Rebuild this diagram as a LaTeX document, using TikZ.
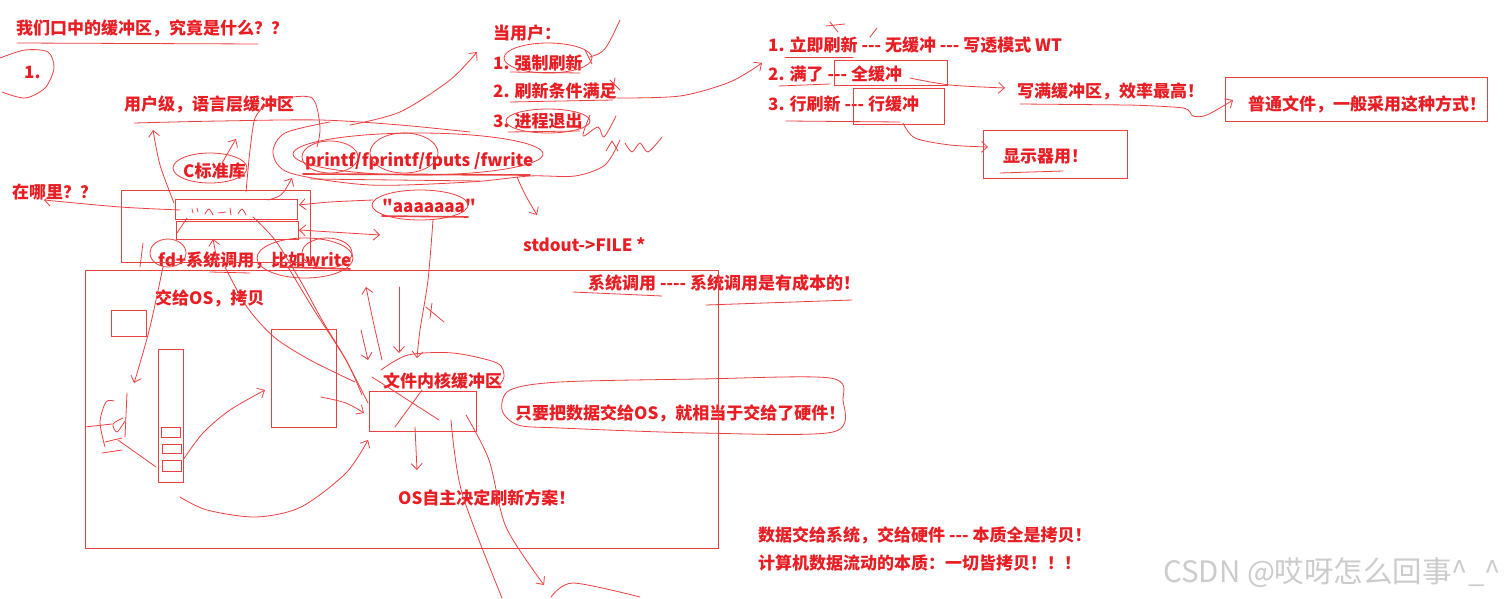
\documentclass[tikz,border=0pt]{standalone}
\usepackage{fontspec}
\setmainfont{Noto Sans CJK SC}[Ligatures=TeXOff]
\usetikzlibrary{arrows.meta}
\definecolor{inkred}{RGB}{232,30,36}
\definecolor{penred}{RGB}{236,64,64}
\tikzset{
  note/.style={font=\bfseries\fontsize{17}{20}\selectfont, text=inkred, inner sep=0pt, anchor=west},
  stamp/.style={font=\fontsize{29.5}{32}\selectfont, text=gray!40, inner sep=0pt, anchor=west},
  pen/.style={draw=penred, line width=0.8pt, line cap=round, line join=round},
  heavy/.style={pen, line width=1.6pt},
  frame/.style={draw=penred, line width=1pt},
}
\begin{document}
\begin{tikzpicture}[x=1pt, y=-1pt, >={Straight Barb[length=6pt,width=11pt]}]
\useasboundingbox (0,0) rectangle (1507,599);
\fill[white] (0,0) rectangle (1507,599);

% Textos
\node[note] (title) at (16,28) {我们口中的缓冲区，究竟是什么？？};
\node[note] (one) at (24,72) {1.};
\node[note] (userlv) at (124,104) {用户级，语言层缓冲区};
\node[note] (clib) at (183,171) {C标准库};
\node[note] (where) at (12,192) {在哪里？？};
\node[note] (printf) at (305,161) {printf/fprintf/fputs /fwrite};
\node[note] (aaa) at (382,206) {"aaaaaaa"};
\node[note] (stdout) at (523,245) {stdout->FILE *};
\node[note] (fdsys) at (158,260) {fd+系统调用，比如write};
\node[note] (toos) at (155,298) {交给OS，拷贝};
\node[note] (syscall) at (588,283) {系统调用 ---- 系统调用是有成本的！};
\node[note] (kbuf) at (383,381) {文件内核缓冲区};
\node[note] (hw) at (515,413) {只要把数据交给OS，就相当于交给了硬件！};
\node[note] (osflush) at (398,498) {OS自主决定刷新方案！};
\node[note] (when) at (493,33) {当用户：};
\node[note] (w1) at (493,63) {1. 强制刷新};
\node[note] (w2) at (493,91) {2. 刷新条件满足};
\node[note] (w3) at (493,121) {3. 进程退出};
\node[note] (m1) at (768,45) {1. 立即刷新 --- 无缓冲 --- 写透模式 WT};
\node[note] (m2) at (768,74) {2. 满了 --- 全缓冲};
\node[note] (m3) at (768,104) {3. 行刷新 --- 行缓冲};
\node[note] (full) at (1017,91) {写满缓冲区，效率最高！};
\node[note] (normal) at (1248,104) {普通文件，一般采用这种方式！};
\node[note] (disp) at (1003,156) {显示器用！};
\node[note] (copy1) at (758,535) {数据交给系统，交给硬件 --- 本质全是拷贝！};
\node[note] (copy2) at (758,563) {计算机数据流动的本质：一切皆拷贝！！！};
\node[stamp] (csdn) at (1163,573) {CSDN @哎呀怎么回事\textasciicircum\_\textasciicircum};

% Cajas
\draw[frame] (121,190) rectangle (310,262);
\draw[frame] (175,199) rectangle (297,219);
\draw[frame] (176,221) rectangle (298,239);
\draw[frame] (85,270) rectangle (718,548);
\draw[frame] (111,310) rectangle (146,336);
\draw[frame] (158,349) rectangle (183,482);
\draw[frame] (161,427) rectangle (180,437);
\draw[frame] (162,444) rectangle (181,453);
\draw[frame] (162,460) rectangle (181,471);
\draw[frame] (271,329) rectangle (336,427);
\draw[frame] (369,391) rectangle (476,431);
\draw[frame] (834,61) rectangle (947,86);
\draw[frame] (853,89) rectangle (944,125);
\draw[frame] (983,131) rectangle (1127,178);
\draw[frame] (1225,78) rectangle (1487,122);

% Subrayados
\draw[pen] (17,43) -- (258,44);
\draw[pen] plot[smooth] coordinates {(134,123) (220,121) (320,120) (400,125) (470,132)};
\draw[heavy] (303,174) -- (530,175);
\draw[pen] (310,179) -- (480,181);
\draw[heavy] (382,216) -- (468,217);
\draw[pen] (210,272) -- (250,273);
\draw[heavy] (280,267) -- (350,269);
\draw[pen] (510,72) -- (580,73);
\draw[pen] (510,102) -- (613,100);
\draw[pen] (508,132) -- (580,131);
\draw[pen] (785,57) -- (853,57);
\draw[pen] (779,86) -- (830,84);
\draw[pen] (786,121) -- (900,122);
\draw[pen] (1020,104) -- (1130,105);
\draw[pen] (1000,173) -- (1063,171);
\draw[pen] (573,292) -- (662,296);
\draw[pen] (706,305) -- (852,300);

% Lazos
\draw[pen] plot[smooth] coordinates {(0,58) (25,50) (48,52) (54,68) (45,88) (25,98) (2,92)};
\draw[pen] (210,168) ellipse (37 and 15);
\draw[pen] (330,157) ellipse (28 and 16);
\draw[pen] (404,153) ellipse (34 and 20);
\draw[pen] (418,154) ellipse (125 and 21);
\draw[pen] plot[smooth] coordinates {(265,106) (280,99) (312,98) (320,127) (317,147)};
\draw[pen] plot[smooth] coordinates {(330,122) (285,133) (273,153) (290,173) (370,185) (470,182) (530,176) (575,176) (605,165) (620,140)};
\draw[pen] (420,205) ellipse (48 and 15);
\draw[pen] (168,253) ellipse (18 and 14);
\draw[pen] (305,258) ellipse (48 and 20);
\draw[pen] (327,253) ellipse (25 and 15);
\draw[pen] (548,58) ellipse (44 and 15);
\draw[pen] (548,121) ellipse (42 and 12);
\draw[pen] plot[smooth] coordinates {(381,370) (408,355) (453,353) (497,363) (504,377) (497,388)};
\draw[pen] plot[smooth cycle] coordinates {(560,382) (700,379) (830,378) (843,400) (833,432) (700,433) (560,428) (518,425) (502,410) (510,390)};

% Garabatos
\draw[pen] (192,209) -- (193,213) (197,208) -- (198,212);
\draw[pen] plot[smooth] coordinates {(205,214) (209,209) (213,215)};
\draw[pen] (218,213) -- (226,212) (230,208) -- (231,215);
\draw[pen] plot[smooth] coordinates {(238,214) (242,209) (246,215)};
\draw[pen] (143,243) -- (140,267);
\draw[pen] plot[smooth] coordinates {(105,447) (100,422) (106,402) (114,401)};
\draw[pen] (85,427) -- (112,424);
\draw[pen] plot[smooth] coordinates {(123,418) (113,424) (117,432) (125,421)};
\draw[pen] (127,393) -- (125,437);
\draw[pen] (105,442) -- (122,438);
\draw[pen] (102,453) -- (122,450);
\draw[pen] (426,307) -- (444,322) (432,303) -- (430,318);
\draw[pen] (372,377) -- (439,420);
\draw[pen] (422,390) -- (395,427);
\draw[pen] (585,50) -- (592,64) (590,57) .. controls (605,52) .. (620,20);
\draw[pen] (610,80) -- (620,90) (615,78) -- (612,92);
\draw[pen] plot[smooth] coordinates {(590,115) (583,136) (598,127) (604,137) (616,116)};
\draw[pen] (606,151) -- (612,141) -- (618,151);
\draw[pen] plot[smooth] coordinates {(625,143) (632,152) (640,143) (648,152) (662,137)};
\draw[pen] (830,22) -- (838,32) (826,26) -- (845,24);
\draw[pen] (870,37) -- (877,28);

% Flechas
\draw[pen,->] plot[smooth] coordinates {(180,210) (120,207) (44,200)};
\draw[pen,->] plot[smooth] coordinates {(174,203) (160,165) (153,130)};
\draw[pen,->] (222,163) -- (236,139);
\draw[pen] plot[smooth] coordinates {(246,192) (250,150) (255,118) (265,106)};
\draw[pen,->] (268,200) .. controls (282,196) .. (292,178);
\draw[pen,->] plot[smooth] coordinates {(373,200) (330,202) (299,205)};
\draw[pen,<->] (299,230) -- (380,235);
\draw[pen] (177,233) -- (187,218);
\draw[pen,->] (217,260) -- (213,239);
\draw[pen,->] plot[smooth] coordinates {(433,220) (428,280) (420,330) (417,358)};
\draw[pen,->] (517,177) .. controls (525,195) .. (537,215);
\draw[pen,->] plot[smooth] coordinates {(350,125) (400,112) (450,80) (477,52)};
\draw[pen,->] plot[smooth] coordinates {(617,98) (680,96) (730,82) (762,63)};
\draw[pen,->] plot[smooth] coordinates {(910,78) (950,85) (1005,88)};
\draw[pen,->] plot[smooth] coordinates {(903,123) (915,138) (950,145) (988,147)};
\draw[pen,->] plot[smooth] coordinates {(1130,105) (1183,108) (1193,116) (1207,115) (1233,100)};
\draw[pen,->] plot[smooth] coordinates {(163,267) (150,327) (138,370) (134,383)};
\draw[pen] (156,467) -- (118,440);
\draw[pen,->] plot[smooth] coordinates {(183,460) (203,433) (230,410) (265,390)};
\draw[pen,->] plot[smooth] coordinates {(180,497) (207,510) (256,517) (301,507) (346,473) (368,440)};
\draw[pen] plot[smooth] coordinates {(225,267) (247,307) (274,337) (310,360) (355,382)};
\draw[pen] plot[smooth] coordinates {(253,217) (275,240) (300,280) (322,320) (346,360) (368,403)};
\draw[pen] plot[smooth] coordinates {(288,267) (314,310) (346,360) (362,395)};
\draw[pen,->] plot[smooth] coordinates {(321,397) (346,403) (364,413)};
\draw[pen,<-] plot[smooth] coordinates {(366,287) (374,325) (382,360)};
\draw[pen,->] (361,330) -- (368,360);
\draw[pen,->] (399,287) -- (399,353);
\draw[pen,->] (415,427) -- (417,470);
\draw[pen] plot[smooth] coordinates {(451,420) (462,493) (502,598)};
\draw[pen,->] plot[smooth] coordinates {(466,415) (489,460) (506,527) (544,585)};
\draw[pen] plot[smooth] coordinates {(551,597) (573,583) (640,597)};
\end{tikzpicture}
\end{document}
